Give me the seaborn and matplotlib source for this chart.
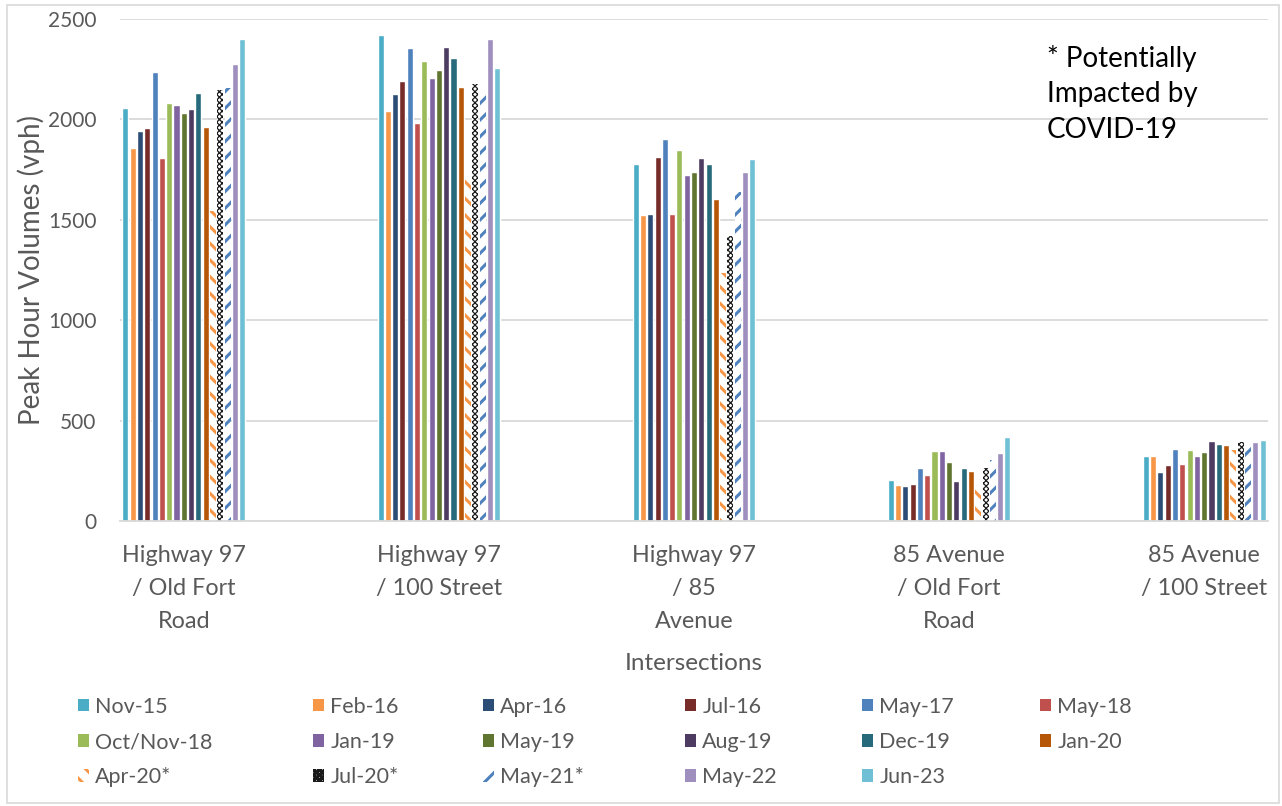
import matplotlib
matplotlib.use("Agg")
import matplotlib.pyplot as plt
from matplotlib.patches import Patch, Rectangle
import pandas as pd
import seaborn as sns

# Intersections (x categories) and their wrapped tick labels
intersections = [
    "Highway 97 / Old Fort Road",
    "Highway 97 / 100 Street",
    "Highway 97 / 85 Avenue",
    "85 Avenue / Old Fort Road",
    "85 Avenue / 100 Street",
]
tick_labels = [
    "Highway 97\n/ Old Fort\nRoad",
    "Highway 97\n/ 100 Street",
    "Highway 97\n/ 85\nAvenue",
    "85 Avenue\n/ Old Fort\nRoad",
    "85 Avenue\n/ 100 Street",
]

# Count dates (hue levels); * = potentially impacted by COVID-19
surveys = [
    "Nov-15", "Feb-16", "Apr-16", "Jul-16", "May-17", "May-18",
    "Oct/Nov-18", "Jan-19", "May-19", "Aug-19", "Dec-19", "Jan-20",
    "Apr-20*", "Jul-20*", "May-21*", "May-22", "Jun-23",
]

# Peak hour volumes (vph) per intersection, in survey order
hwy97_old_fort = [2055, 1856, 1942, 1959, 2234, 1806, 2082, 2072, 2030,
                  2053, 2131, 1961, 1545, 2146, 2155, 2276, 2400]
hwy97_100_st = [2419, 2042, 2126, 2191, 2354, 1984, 2291, 2208, 2246,
                2362, 2304, 2163, 1702, 2176, 2151, 2399, 2254]
hwy97_85_ave = [1779, 1524, 1529, 1814, 1902, 1529, 1846, 1723, 1738,
                1809, 1779, 1602, 1234, 1421, 1640, 1736, 1801]
ave85_old_fort = [204, 179, 176, 186, 262, 231, 350, 350, 295,
                  199, 266, 249, 180, 262, 304, 337, 420]
ave85_100_st = [325, 325, 244, 279, 357, 282, 352, 322, 342,
                397, 385, 377, 355, 392, 388, 395, 402]

colors = [
    "#4BACC6", "#F79646", "#2C4D75", "#772C2A", "#4F81BD", "#C0504D",
    "#9BBB59", "#8064A2", "#5F7530", "#4D3B62", "#276A7C", "#B65708",
    "#F79646", "#1A1A1A", "#4F81BD", "#9F8FBF", "#6FC0D5",
]
hatches = {"Apr-20*": "\\\\", "Jul-20*": "xxxxxx", "May-21*": "//"}

rows = []
for name, vals in zip(intersections, [hwy97_old_fort, hwy97_100_st, hwy97_85_ave,
                                      ave85_old_fort, ave85_100_st]):
    for s, v in zip(surveys, vals):
        rows.append({"Intersection": name, "Survey": s, "Volume": v})
df = pd.DataFrame(rows)

sns.set_theme(style="white")
plt.rcParams["font.family"] = ["Lato", "DejaVu Sans"]
plt.rcParams["hatch.linewidth"] = 2.2

grey = "#595959"
grid = "#D9D9D9"

fig = plt.figure(figsize=(12.82, 8.06), dpi=100)
ax = fig.add_axes([120 / 1282, 1 - 521 / 806, 1148 / 1282, 502 / 806])

sns.barplot(data=df, x="Intersection", y="Volume", hue="Survey",
            order=intersections, hue_order=surveys, palette=colors,
            width=0.486, gap=0.17, saturation=1, errorbar=None,
            legend=False, ax=ax)

# Patterned bars: white background with coloured hatch
for i, s in enumerate(surveys):
    if s in hatches:
        for bar in ax.containers[i]:
            bar.set_facecolor("white")
            bar.set_edgecolor(colors[i])
            bar.set_linewidth(0)
            bar.set_hatch(hatches[s])
            if s == "Jul-20*" and hasattr(bar, "set_hatch_linewidth"):
                bar.set_hatch_linewidth(0.9)

ax.set_xlim(-0.25, 4.25)
ax.set_ylim(0, 2500)
ax.set_yticks([0, 500, 1000, 1500, 2000, 2500])
ax.yaxis.grid(True, color=grid, linewidth=1.3)
ax.set_axisbelow(True)
for side in ["left", "top", "right"]:
    ax.spines[side].set_visible(False)
ax.spines["bottom"].set_color(grid)
ax.spines["bottom"].set_linewidth(1.3)
ax.tick_params(axis="both", length=0, labelcolor=grey)
ax.tick_params(axis="y", pad=17, labelsize=15)
ax.tick_params(axis="x", pad=17, labelsize=16.8)
ax.set_xticks(range(len(intersections)))
ax.set_xticklabels(tick_labels, linespacing=1.72)

ax.set_xlabel("Intersections", fontsize=17.5, color=grey, labelpad=15)
ax.set_ylabel("Peak Hour Volumes (vph)", fontsize=20, color=grey, labelpad=2)

fig.text(1047 / 1282, 1 - 45 / 806, "* Potentially\nImpacted by\nCOVID-19",
         fontsize=20, color="black", va="top", ha="left", linespacing=1.45)

# Legend: six columns, filled row by row
def handle(i):
    s = surveys[i]
    if s in hatches:
        return Patch(facecolor="white", edgecolor=colors[i], linewidth=0,
                     hatch=hatches[s])
    return Patch(facecolor=colors[i], edgecolor="none")

col_x = [78, 313, 483, 685, 862, 1040]
for c, x in enumerate(col_x):
    idx = [r * 6 + c for r in range(3) if r * 6 + c < len(surveys)]
    fig.legend([handle(i) for i in idx], [surveys[i] for i in idx],
               loc="upper left", bbox_to_anchor=(x / 1282, 1 - 697 / 806),
               frameon=False, fontsize=15.5, labelcolor=grey,
               handlelength=0.5, handleheight=0.5, handletextpad=0.3,
               borderpad=0, borderaxespad=0, labelspacing=0.7)

fig.add_artist(Rectangle((7 / 1282, 3 / 806), 1272 / 1282, 798 / 806,
                         transform=fig.transFigure, fill=False,
                         edgecolor=grid, linewidth=1.2))

fig.savefig("out.png", dpi=100)
